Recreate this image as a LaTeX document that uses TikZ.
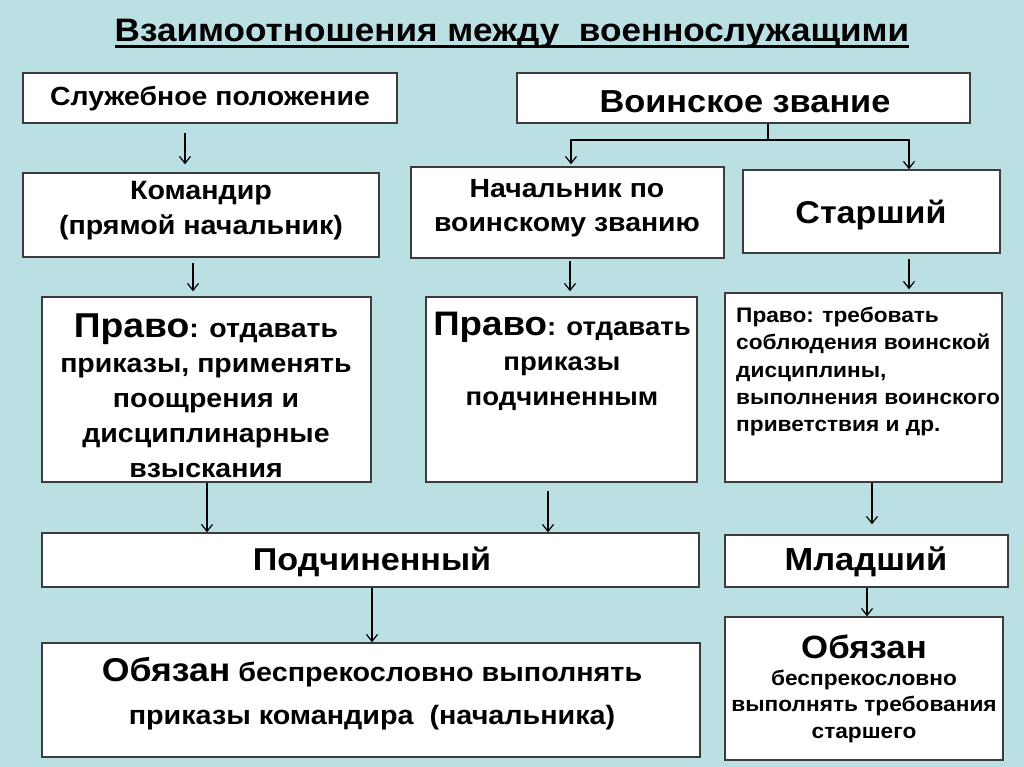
\documentclass[tikz,border=0pt]{standalone}
\usepackage{fontspec}
\setmainfont{Liberation Sans}[FakeStretch=1.08]
\usetikzlibrary{arrows.meta}
\definecolor{bg}{RGB}{187,224,228}
\definecolor{frame}{RGB}{60,60,60}
\newcommand{\fs}[2]{\fontsize{#1}{#2}\selectfont}
\begin{document}
\begin{tikzpicture}[x=1pt,y=-1pt,
  box/.style={draw=frame, line width=1.3pt, fill=white, inner sep=0pt},
  txt/.style={font=\bfseries, align=center, inner sep=0pt},
  arr/.style={-{Straight Barb[length=7pt,width=11pt]}, line width=1.2pt}]
\fill[bg] (0,0) rectangle (1024,767);
\useasboundingbox (0,0) rectangle (1024,767);

% title
\node[txt, anchor=base, font=\bfseries\fs{32.5}{36}] (title) at (512,42) {Взаимоотношения между\ \ военнослужащими};
\draw[line width=2.6pt] ([yshift=-4.5pt]title.base west) -- ([yshift=-4.5pt]title.base east);

% boxes
\node[box, minimum width=374pt, minimum height=50pt] (b1) at (210,98) {};
\node[box, minimum width=453pt, minimum height=50pt] (b2) at (743.5,98) {};
\node[box, minimum width=356pt, minimum height=84pt] (b3) at (201,215) {};
\node[box, minimum width=313pt, minimum height=91pt] (b4) at (567.5,212.5) {};
\node[box, minimum width=257pt, minimum height=83pt] (b5) at (871.5,211.5) {};
\node[box, minimum width=329pt, minimum height=185pt] (b6) at (206.5,389.5) {};
\node[box, minimum width=271pt, minimum height=185pt] (b7) at (561.5,389.5) {};
\node[box, minimum width=277pt, minimum height=189pt] (b8) at (863.5,387.5) {};
\node[box, minimum width=657pt, minimum height=54pt] (b9) at (370.5,560) {};
\node[box, minimum width=283pt, minimum height=52pt] (b10) at (866.5,561) {};
\node[box, minimum width=658pt, minimum height=114pt] (b11) at (371,700) {};
\node[box, minimum width=278pt, minimum height=143pt] (b12) at (864,688.5) {};

% texts
\node[txt, font=\bfseries\fs{26.3}{30}] (t1) at (210,99) {Служебное положение};
\node[txt, font=\bfseries\fs{31.8}{34}] (t2) at (745,102) {Воинское звание};
\node[txt, font=\bfseries\fs{26.5}{35}] (t3) at (201,211) {Командир\\(прямой начальник)};
\node[txt, font=\bfseries\fs{26.3}{34}] (t4) at (567,208) {Начальник по\\воинскому званию};
\node[txt, font=\bfseries\fs{31.5}{34}] (t5) at (871,215) {Старший};
\node[txt, font=\bfseries\fs{26.4}{35}] (t6) at (206,396) {{\fs{34.5}{35}Право}: отдавать\\приказы, применять\\поощрения и\\дисциплинарные\\взыскания};
\node[txt, font=\bfseries\fs{25.5}{35}] (t7) at (562,361) {{\fs{34}{35}Право}: отдавать\\приказы\\подчиненным};
\node[txt, align=left, anchor=north west, font=\bfseries\fs{21}{27.2}] (t8) at (736,307) {Право: требовать\\соблюдения воинской\\дисциплины,\\выполнения воинского\\приветствия и др.};
\node[txt, font=\bfseries\fs{31.6}{34}] (t9) at (372,562) {Подчиненный};
\node[txt, font=\bfseries\fs{31.9}{34}] (t10) at (866,562) {Младший};
\node[txt, font=\bfseries\fs{26.6}{43}] (t11) at (372,694) {{\fs{33}{43}Обязан} беспрекословно выполнять\\приказы командира\ \ (начальника)};
\node[txt, font=\bfseries\fs{21}{26.5}] (t12) at (864,689) {{\fs{32.2}{36}Обязан}\\беспрекословно\\выполнять требования\\старшего};

% connectors
\coordinate (j) at (768,140);
\draw[line width=1.2pt] (b2.south -| j) -- (j);
\draw[arr] ([yshift=-9pt]b1.south -| 185,0) -- ([yshift=8pt]b3.north -| 185,0);
\draw[arr] (j) -| ([yshift=2pt]b4.north -| 571,0);
\draw[arr] (j) -| ([yshift=0pt]b5.north -| 909,0);
\draw[arr] ([yshift=-5pt]b3.south -| 193,0) -- ([yshift=5pt]b6.north -| 193,0);
\draw[arr] ([yshift=-2pt]b4.south -| 570,0) -- ([yshift=5pt]b7.north -| 570,0);
\draw[arr] ([yshift=-5pt]b5.south -| 909,0) -- ([yshift=3pt]b8.north -| 909,0);
\draw[arr] (b6.south -| 207,0) -- (b9.north -| 207,0);
\draw[arr] ([yshift=-8pt]b7.south -| 548,0) -- (b9.north -| 548,0);
\draw[arr] (b8.south -| 872,0) -- ([yshift=10pt]b10.north -| 872,0);
\draw[arr] (b9.south -| 372,0) -- (b11.north -| 372,0);
\draw[arr] (b10.south -| 867,0) -- (b12.north -| 867,0);
\end{tikzpicture}
\end{document}
